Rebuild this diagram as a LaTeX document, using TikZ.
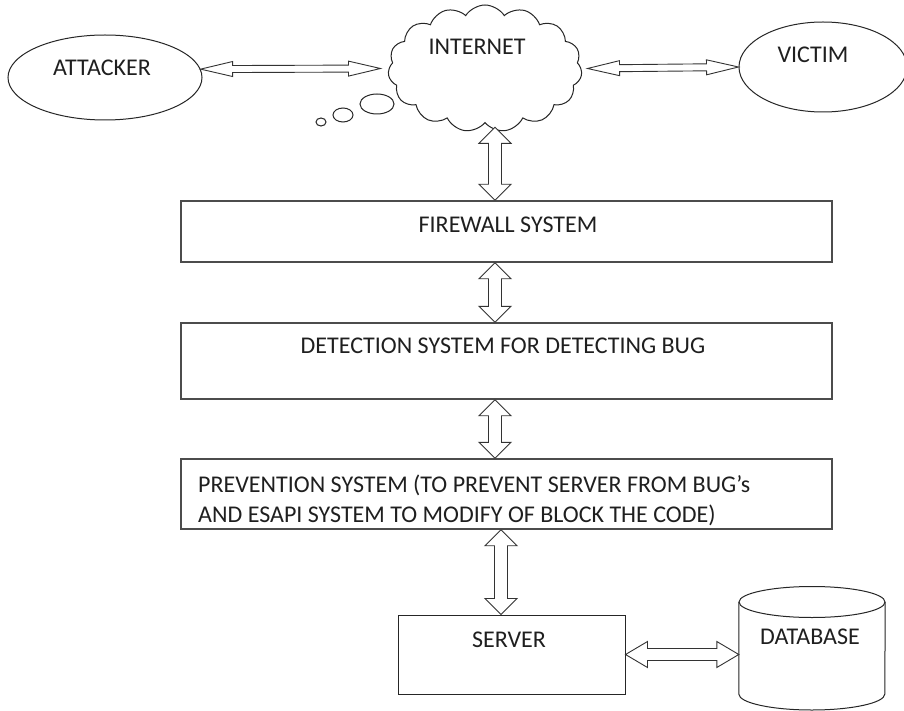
\documentclass[tikz,border=0pt]{standalone}
\usepackage{fontspec}
\setmainfont{Carlito}
\usetikzlibrary{calc,shapes.geometric,shapes.symbols}

\tikzset{
  % hollow double-headed block arrow: #1 shaft half width, #2 head half width, #3 head length
  dblarrow/.style n args={3}{
    draw=black!80, fill=white, line width=0.9pt, line join=miter,
    to path={
      (\tikztostart)
      -- ($(\tikztostart)!#3!(\tikztotarget)!#2!90:(\tikztotarget)$)
      -- ($(\tikztostart)!#3!(\tikztotarget)!#1!90:(\tikztotarget)$)
      -- ($(\tikztotarget)!#3!(\tikztostart)!#1!-90:(\tikztostart)$)
      -- ($(\tikztotarget)!#3!(\tikztostart)!#2!-90:(\tikztostart)$)
      -- (\tikztotarget)
      -- ($(\tikztotarget)!#3!(\tikztostart)!#2!90:(\tikztostart)$)
      -- ($(\tikztotarget)!#3!(\tikztostart)!#1!90:(\tikztostart)$)
      -- ($(\tikztostart)!#3!(\tikztotarget)!#1!-90:(\tikztotarget)$)
      -- ($(\tikztostart)!#3!(\tikztotarget)!#2!-90:(\tikztotarget)$)
      -- cycle
    }
  },
  thinarrow/.style={dblarrow={3.5pt}{7.5pt}{32pt}},
  vertarrow/.style={dblarrow={6.5pt}{16pt}{16pt}},
  dbarrow/.style={dblarrow={6pt}{13pt}{22pt}},
  sysbox/.style={draw=black!70, line width=1.4pt, rectangle, inner sep=0pt},
  oval/.style={draw=black!85, line width=1pt, ellipse, inner sep=0pt},
  lbl/.style={font=\fontsize{24}{29}\selectfont, text=black!88, inner sep=0pt, anchor=base}
}

\begin{document}
\begin{tikzpicture}[x=1pt, y=-1pt]
  \useasboundingbox (0,0) rectangle (904,711);
  \fill[white] (0,0) rectangle (904,711);

  % top row: attacker, internet cloud, victim
  \node[oval, minimum width=194pt, minimum height=85pt] (attacker) at (105,77.5) {};
  \node[lbl] (attackerlbl) at (102,76) {ATTACKER};

  \node[oval, minimum width=168pt, minimum height=90pt] (victim) at (823,67) {};
  \node[lbl] (victimlbl) at (813,63) {VICTIM};

  \node[cloud, draw=black!85, line width=1pt, cloud puffs=15, cloud puff arc=115,
        aspect=1.5, minimum width=194pt, minimum height=127pt, inner sep=0pt]
        (net) at (485,68.5) {};
  \node[lbl] (netlbl) at (477,55) {INTERNET};

  % thought bubbles trailing off the cloud
  \draw[black!85, line width=1pt] (377,104) ellipse[x radius=17, y radius=10];
  \draw[black!85, line width=1pt] (343,115) ellipse[x radius=10, y radius=7];
  \draw[black!85, line width=1pt] (321,122) ellipse[x radius=5, y radius=4];

  % stacked system layers
  \node[sysbox, minimum width=651pt, minimum height=61pt] (fw) at (506.5,231.5) {};
  \node[lbl] (fwlbl) at (508,233) {FIREWALL SYSTEM};

  \node[sysbox, minimum width=651pt, minimum height=76pt] (det) at (506.5,361) {};
  \node[lbl] (detlbl) at (503,353) {DETECTION SYSTEM FOR DETECTING BUG};

  \node[sysbox, minimum width=651pt, minimum height=70pt] (prev) at (506.5,494) {};
  \node[lbl, anchor=base west] (prevlblA) at (198,492) {PREVENTION SYSTEM (TO PREVENT SERVER FROM BUG’s};
  \node[lbl, anchor=base west] (prevlblB) at (198,522) {AND ESAPI SYSTEM TO MODIFY OF BLOCK THE CODE)};

  % server and database
  \node[draw=black!85, line width=1pt, rectangle, inner sep=0pt,
        minimum width=227pt, minimum height=79pt] (srv) at (511.5,654.5) {};
  \node[lbl] (srvlbl) at (509,647) {SERVER};

  \node[rectangle, inner sep=0pt, minimum width=146pt, minimum height=123pt] (db) at (812,648.5) {};
  \draw[black!85, line width=1pt]
    (db.north west |- 0,602) -- (db.north west |- 0,694)
    arc[start angle=180, end angle=0, x radius=73, y radius=16]
    -- (db.north east |- 0,602);
  \draw[black!85, line width=1pt] (812,602) ellipse[x radius=73, y radius=15.5];
  \node[lbl] (dblbl) at (810,644) {DATABASE};

  % connectors
  \draw[thinarrow] (attacker.5) to ([xshift=-8pt]net.west);
  \draw[thinarrow] ([xshift=6pt]net.east) to (victim.west);
  \draw[vertarrow] (fw.north -| 495,0) to ([yshift=-4pt]net.south -| 495,0);
  \draw[vertarrow] (fw.south -| 495,0) to (det.north -| 495,0);
  \draw[vertarrow] (det.south -| 495,0) to (prev.north -| 495,0);
  \draw[vertarrow] (prev.south -| 501,0) to (srv.north -| 501,0);
  \draw[dbarrow] (srv.east) to (db.west |- srv.east);
\end{tikzpicture}
\end{document}
